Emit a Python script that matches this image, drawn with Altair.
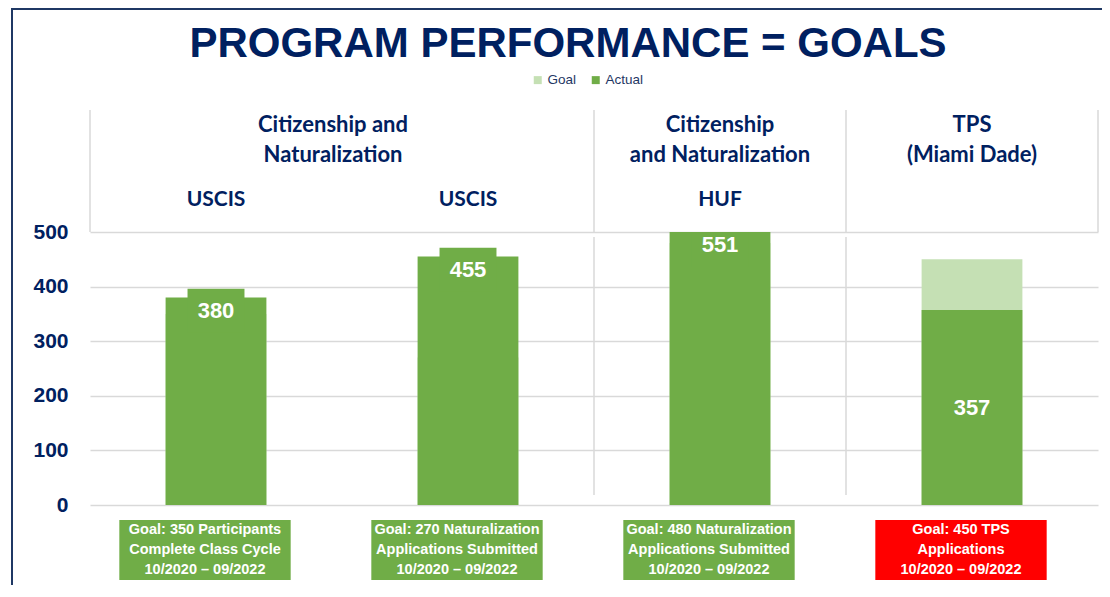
import altair as alt
import pandas as pd

TITLE = "PROGRAM PERFORMANCE = GOALS"
CATS = [
    "Goal: 350 Participants\nComplete Class Cycle\n10/2020 – 09/2022",
    "Goal: 270 Naturalization\nApplications Submitted\n10/2020 – 09/2022",
    "Goal: 480 Naturalization\nApplications Submitted\n10/2020 – 09/2022",
    "Goal: 450 TPS\nApplications\n10/2020 – 09/2022",
]
PROGRAM = ["USCIS", "USCIS", "HUF", ""]
GOAL = [350, 270, 480, 450]
ACTUAL = [380, 455, 551, 357]
GROUP_TEXT = ["Citizenship and\nNaturalization", "Citizenship\nand Naturalization", "TPS\n(Miami Dade)"]
GROUP_FIRST = [0, 2, 3]
GROUP_LAST = [1, 2, 3]
Y_TICKS = [0, 100, 200, 300, 400, 500]

NAVY = "#002060"
GREEN = "#70AD47"
LIGHT = "#C5E0B4"
GRID = "#D9D9D9"
HFONT = "Lato"
AFONT = "Liberation Sans"

main = pd.DataFrame({"cat": CATS, "program": PROGRAM, "Goal": GOAL, "Actual": ACTUAL})
groups = pd.DataFrame({
    "group": GROUP_TEXT,
    "first": [CATS[i] for i in GROUP_FIRST],
    "last": [CATS[i] for i in GROUP_LAST],
})
title_df = pd.DataFrame({"t": [TITLE]})

xscale = alt.Scale(domain=CATS, paddingInner=0, paddingOuter=0)
yscale = alt.Scale(domain=[0, 500], nice=False)
yaxis = alt.Axis(values=Y_TICKS, title=None, domain=False, ticks=False,
                 labelFont=AFONT, labelFontWeight="bold", labelFontSize=21,
                 labelColor=NAVY, labelPadding=22, gridColor=GRID, gridWidth=1.5)


def X(field, band=0.5):
    return alt.X(f"{field}:N", scale=xscale, axis=None, bandPosition=band)


def Y(field):
    return alt.Y(f"{field}:Q", scale=yscale, axis=yaxis, stack=None)


base = alt.Chart(main)

# frame lines (decoration)
frame_left = alt.Chart(title_df).mark_rule(color="#1F3864", strokeWidth=2).encode(
    x=alt.value(-78), y=alt.value(-224), y2=alt.value(357))
frame_top = alt.Chart(title_df).mark_rule(color="#1F3864", strokeWidth=2).encode(
    x=alt.value(-78), x2=alt.value(1012), y=alt.value(-223))

# header box verticals
head_v = alt.Chart(groups).mark_rule(color=GRID, strokeWidth=1.5).encode(
    x=X("first", 0), y=alt.value(-122), y2=alt.value(0))
head_v_end = alt.Chart(groups.tail(1)).mark_rule(color=GRID, strokeWidth=1.5).encode(
    x=X("last", 1), y=alt.value(-122), y2=alt.value(0))
plot_div = alt.Chart(groups.iloc[1:]).mark_rule(color=GRID, strokeWidth=1.5).encode(
    x=X("first", 0), y=alt.value(5), y2=alt.value(263))

bars = base.transform_fold(["Goal", "Actual"], as_=["series", "value"]).mark_bar(
    clip=True, width=alt.RelativeBandSize(0.4)
).encode(
    x=X("cat"),
    y=Y("value"),
    color=alt.Color("series:N", scale=alt.Scale(domain=["Goal", "Actual"], range=[LIGHT, GREEN]),
                    legend=alt.Legend(orient="none", legendX=441, legendY=-159, direction="horizontal",
                                      title=None, symbolType="square", symbolSize=64,
                                      symbolStrokeWidth=0, labelFont=AFONT, labelFontSize=13.5,
                                      labelColor="#1F3864", columnPadding=12, labelOffset=3)),
)

labelled = base.transform_calculate(
    met="datum.Actual >= datum.Goal",
    label_y="datum.Actual >= datum.Goal ? min(datum.Actual, 500) - 24 : datum.Actual / 2",
).transform_calculate(
    tab_top="datum.label_y + 40",
    tab_bot="datum.label_y - 40",
)

tabs = labelled.transform_filter("datum.met").mark_bar(
    clip=True, width=alt.RelativeBandSize(0.226), color=GREEN
).encode(x=X("cat"), y=Y("tab_top"), y2="tab_bot:Q")

labels = labelled.mark_text(font=AFONT, fontWeight="bold", fontSize=22, color="white",
                            baseline="middle").encode(
    x=X("cat"), y=Y("label_y"), text="Actual:Q")

group1 = alt.Chart(groups.head(1)).mark_text(
    font=HFONT, fontWeight="bold", fontSize=22, color=NAVY, lineBreak="\n",
    lineHeight=30, baseline="middle", xOffset=-9
).encode(x=X("first", 1), y=alt.value(-107), text="group:N")
groups_rest = alt.Chart(groups.iloc[1:]).mark_text(
    font=HFONT, fontWeight="bold", fontSize=22, color=NAVY, lineBreak="\n",
    lineHeight=30, baseline="middle"
).encode(x=X("first"), y=alt.value(-107), text="group:N")

programs = base.mark_text(font=HFONT, fontWeight="bold", fontSize=21, color=NAVY,
                          baseline="middle").encode(
    x=X("cat"), y=alt.value(-32), text="program:N")

boxes = base.mark_bar(width=alt.RelativeBandSize(0.68), xOffset=-11).encode(
    x=X("cat"), y=alt.value(288), y2=alt.value(348),
    color=alt.condition("datum.Actual < datum.Goal", alt.value("#FF0000"), alt.value(GREEN)),
)
box_text = base.mark_text(font=AFONT, fontWeight="bold", fontSize=14.5, color="white",
                          lineBreak="\n", lineHeight=20, baseline="middle", xOffset=-11).encode(
    x=X("cat"), y=alt.value(298), text="cat:N")

title = alt.Chart(title_df).mark_text(font=AFONT, fontWeight="bold", fontSize=42, color=NAVY,
                                      baseline="alphabetic").encode(
    x=alt.value(478), y=alt.value(-175), text="t:N")

chart = alt.layer(
    frame_left, frame_top, head_v, head_v_end, plot_div, bars, tabs, labels,
    group1, groups_rest, programs, boxes, box_text, title
).properties(
    width=1008, height=273,
    autosize=alt.AutoSizeParams(type="none"),
    padding={"left": 82, "top": 224, "right": 4, "bottom": 80},
    background="white",
).configure_view(stroke=None)

chart.save("out.html", embed_options={"renderer": "svg", "actions": False})
